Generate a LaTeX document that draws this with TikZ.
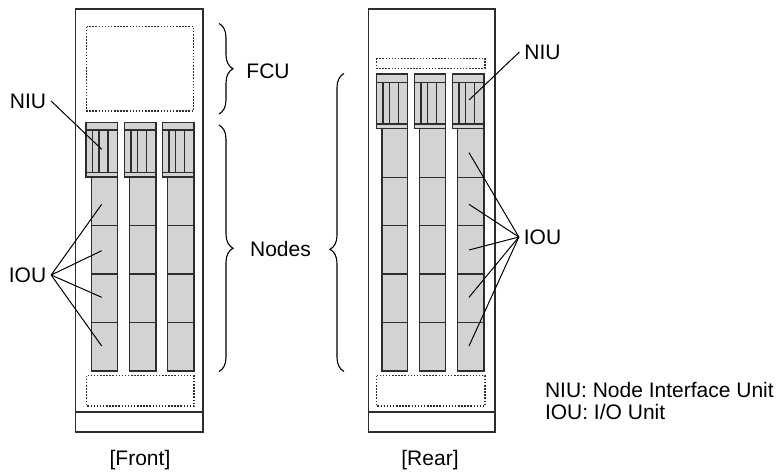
\documentclass[tikz,border=0pt]{standalone}
\usepackage{fontspec}
\setmainfont{Liberation Sans}
\usetikzlibrary{decorations.pathreplacing}
\definecolor{unitgray}{RGB}{211,211,211}
\definecolor{edgegray}{RGB}{45,45,45}

\begin{document}
\begin{tikzpicture}[x={(1pt,0)},y={(0,-1pt)},
  cab/.style={draw=edgegray,line width=1.4pt},
  dotbox/.style={draw=edgegray,line width=1.2pt,dash pattern=on 1.5pt off 1.6pt},
  unit/.style={draw=edgegray,fill=unitgray,line width=1.3pt},
  sep/.style={draw=edgegray,line width=1.3pt},
  lead/.style={draw=black,line width=1pt},
  lbl/.style={font=\fontsize{21}{25}\selectfont,inner sep=2pt,outer sep=3pt},
  brc/.style={decorate,decoration={brace,amplitude=14pt},line width=1.1pt}]
\useasboundingbox (0,0) rectangle (777,472);
% front cabinet
\draw[cab] (75.7,9) rectangle (203,432);
\draw[cab] (75.7,412) -- (203,412);
\draw[dotbox] (86.7,26.7) rectangle (193.5,111);
\draw[dotbox] (86.7,375.7) rectangle (194,406);
% front NIU
\draw[unit] (86,122.5) rectangle (117.5,177);
\draw[sep] (86,130) -- (117.5,130) (86,172.5) -- (117.5,172.5);
\draw[sep] (92.5,130) -- (92.5,172.5) (99,130) -- (99,172.5) (108,130) -- (108,172.5);
\draw[unit] (124.5,122.5) rectangle (156,177);
\draw[sep] (124.5,130) -- (156,130) (124.5,172.5) -- (156,172.5);
\draw[sep] (131,130) -- (131,172.5) (137.5,130) -- (137.5,172.5) (146.5,130) -- (146.5,172.5);
\draw[unit] (162.5,122.5) rectangle (194,177);
\draw[sep] (162.5,130) -- (194,130) (162.5,172.5) -- (194,172.5);
\draw[sep] (169,130) -- (169,172.5) (175.5,130) -- (175.5,172.5) (184.5,130) -- (184.5,172.5);
% front IOU
\draw[unit] (91.5,177) rectangle (117.5,371);
\draw[sep] (91.5,225.5) -- (117.5,225.5) (91.5,274) -- (117.5,274) (91.5,322.5) -- (117.5,322.5);
\draw[unit] (129.5,177) rectangle (156,371);
\draw[sep] (129.5,225.5) -- (156,225.5) (129.5,274) -- (156,274) (129.5,322.5) -- (156,322.5);
\draw[unit] (167.5,177) rectangle (194,371);
\draw[sep] (167.5,225.5) -- (194,225.5) (167.5,274) -- (194,274) (167.5,322.5) -- (194,322.5);
% rear cabinet
\draw[cab] (368.3,9) rectangle (495,432);
\draw[cab] (368.3,412) -- (495,412);
\draw[dotbox] (376.7,58.3) rectangle (485,68.3);
\draw[dotbox] (376.7,375.7) rectangle (485,406);
% rear NIU
\draw[unit] (376.5,74) rectangle (407.5,128.5);
\draw[sep] (376.5,82.5) -- (407.5,82.5) (376.5,124) -- (407.5,124);
\draw[sep] (383,82.5) -- (383,124) (389.5,82.5) -- (389.5,124) (398.5,82.5) -- (398.5,124);
\draw[unit] (414.5,74) rectangle (445.5,128.5);
\draw[sep] (414.5,82.5) -- (445.5,82.5) (414.5,124) -- (445.5,124);
\draw[sep] (421,82.5) -- (421,124) (427.5,82.5) -- (427.5,124) (436.5,82.5) -- (436.5,124);
\draw[unit] (452.5,74) rectangle (484,128.5);
\draw[sep] (452.5,82.5) -- (484,82.5) (452.5,124) -- (484,124);
\draw[sep] (459,82.5) -- (459,124) (465.5,82.5) -- (465.5,124) (474.5,82.5) -- (474.5,124);
% rear IOU
\draw[unit] (382,128.5) rectangle (407.5,371);
\draw[sep] (382,177.5) -- (407.5,177.5) (382,225.5) -- (407.5,225.5) (382,274) -- (407.5,274) (382,322.5) -- (407.5,322.5);
\draw[unit] (419.5,128.5) rectangle (445.5,371);
\draw[sep] (419.5,177.5) -- (445.5,177.5) (419.5,225.5) -- (445.5,225.5) (419.5,274) -- (445.5,274) (419.5,322.5) -- (445.5,322.5);
\draw[unit] (457.5,128.5) rectangle (484,371);
\draw[sep] (457.5,177.5) -- (484,177.5) (457.5,225.5) -- (484,225.5) (457.5,274) -- (484,274) (457.5,322.5) -- (484,322.5);
% braces
\draw[brc] (219,23.5) -- (219,114);
\draw[brc] (219,125) -- (219,371.5);
\draw[brc,decoration={aspect=0.41}] (344,371.5) -- (344,73.5);
% labels
\node[lbl] (fcu) at (268,71) {FCU};
\node[lbl] (nodes) at (280.5,249) {Nodes};
\node[lbl] (niuF) at (28,101) {NIU};
\node[lbl] (iouF) at (27.5,275) {IOU};
\node[lbl] (niuR) at (542.5,52) {NIU};
\node[lbl] (iouR) at (542.5,237) {IOU};
\node[lbl,anchor=west,outer sep=0pt] (legNIU) at (543,390) {NIU: Node Interface Unit};
\node[lbl,anchor=west,outer sep=0pt] (legIOU) at (543,412) {IOU: I/O Unit};
\node[lbl] (front) at (140,460) {[Front]};
\node[lbl] (rear) at (430,460) {[Rear]};
% leader ends
\coordinate (fniu) at (101.7,149.3);
\coordinate (fiou1) at (101.7,204.3);
\coordinate (fiou2) at (101.7,250.7);
\coordinate (fiou3) at (101.7,297.3);
\coordinate (fiou4) at (101.7,346);
\coordinate (rniu) at (469,100);
\coordinate (riou1) at (469,152.7);
\coordinate (riou2) at (469,204.3);
\coordinate (riou3) at (469,250);
\coordinate (riou4) at (469,297.3);
\coordinate (riou5) at (469,346);
\draw[lead] (niuF.east) -- (fniu);
\draw[lead] (iouF.east) -- (fiou1);
\draw[lead] (iouF.east) -- (fiou2);
\draw[lead] (iouF.east) -- (fiou3);
\draw[lead] (iouF.east) -- (fiou4);
\draw[lead] (niuR.west) -- (rniu);
\draw[lead] (iouR.west) -- (riou1);
\draw[lead] (iouR.west) -- (riou2);
\draw[lead] (iouR.west) -- (riou3);
\draw[lead] (iouR.west) -- (riou4);
\draw[lead] (iouR.west) -- (riou5);
\end{tikzpicture}
\end{document}
